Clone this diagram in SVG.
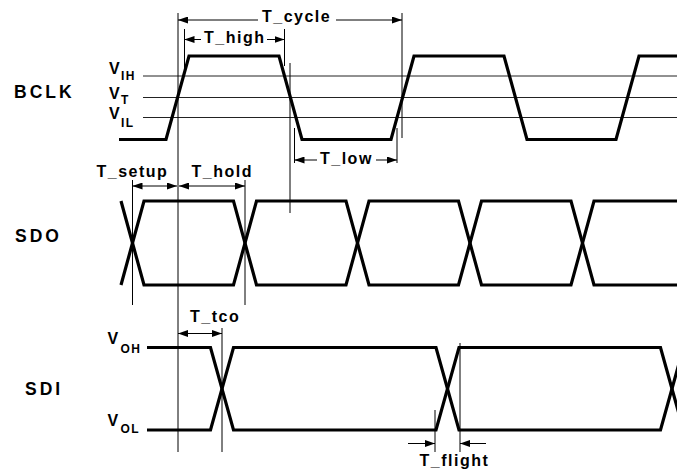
<svg xmlns="http://www.w3.org/2000/svg" width="677" height="474" viewBox="0 0 677 474">
<style>
.wave{fill:none;stroke:#000;stroke-width:3.2;stroke-linejoin:miter}
.thr{stroke:#222;stroke-width:1}
.ref{stroke:#000;stroke-width:1;fill:none}
.dim{stroke:#000;stroke-width:1;fill:none}
.sig{font-family:"Liberation Sans",Arial,sans-serif;font-weight:bold;font-size:17.5px;letter-spacing:3px;fill:#000}
.lbl{font-family:"Liberation Sans",Arial,sans-serif;font-weight:bold;font-size:16px;letter-spacing:1.5px;fill:#000}
.v{font-family:"Liberation Sans",Arial,sans-serif;font-weight:bold;font-size:16px;fill:#000}
.sub{font-size:12px;letter-spacing:1.5px}
</style>
<defs>
<marker id="ah" viewBox="0 0 10 7" refX="10" refY="3.5" markerWidth="10" markerHeight="7" markerUnits="userSpaceOnUse" orient="auto-start-reverse">
<path d="M0,0 L10,3.5 L0,7 z" fill="#000"/>
</marker>
</defs>
<rect width="677" height="474" fill="#fff"/>

<g id="bclk">
<text class="sig" x="14" y="98">BCLK</text>
<line class="thr" x1="143" y1="76" x2="677" y2="76"/>
<line class="thr" x1="143" y1="97.5" x2="677" y2="97.5"/>
<line class="thr" x1="143" y1="117.5" x2="677" y2="117.5"/>
<text class="v" x="109" y="73.5">V<tspan class="sub" x="121" y="79.5">IH</tspan></text>
<text class="v" x="109" y="98.5">V<tspan class="sub" x="121" y="104">T</tspan></text>
<text class="v" x="109" y="118.5">V<tspan class="sub" x="121" y="126.5">IL</tspan></text>
<path class="wave" d="M119,139.5 H166 L189,56 H279 L302,139.5 H391 L414,56 H504 L527,139.5 H616 L639,56 H677"/>
</g>

<g id="sdo">
<text class="sig" x="15" y="242">SDO</text>
<path class="wave" d="M121,201 L144,285 H233.5 L256.5,201 H346 L369,285 H458.5 L481.5,201 H571 L594,285 H677"/>
<path class="wave" d="M121,285 L144,201 H233.5 L256.5,285 H346 L369,201 H458.5 L481.5,285 H571 L594,201 H677"/>
</g>

<g id="sdi">
<text class="sig" x="25" y="395">SDI</text>
<text class="v" x="107.5" y="343.5">V<tspan class="sub" x="120.5" y="353">OH</tspan></text>
<text class="v" x="107.5" y="425.5">V<tspan class="sub" x="120.5" y="432.5">OL</tspan></text>
<path class="wave" d="M147,347.5 H210.5 L233.5,430 H436 L459,347.5 H660.5 L683.5,430"/>
<path class="wave" d="M147,430 H210.5 L233.5,347.5 H436 L459,430 H660.5 L683.5,347.5"/>
</g>

<g id="connectors">
<line class="ref" x1="178" y1="13" x2="178" y2="452"/>
<line class="ref" x1="184.5" y1="29" x2="184.5" y2="76"/>
<line class="ref" x1="284.5" y1="29" x2="284.5" y2="66"/>
<line class="ref" x1="290" y1="63" x2="290" y2="213"/>
<line class="ref" x1="294.5" y1="128" x2="294.5" y2="163"/>
<line class="ref" x1="397" y1="128" x2="397" y2="163"/>
<line class="ref" x1="402" y1="13" x2="402" y2="138"/>
<line class="ref" x1="132.5" y1="180" x2="132.5" y2="305"/>
<line class="ref" x1="245" y1="180" x2="245" y2="305"/>
<line class="ref" x1="222" y1="328" x2="222" y2="452"/>
<line class="ref" x1="435" y1="410" x2="435" y2="452"/>
<line class="ref" x1="460" y1="343" x2="460" y2="452"/>

<line class="dim" x1="258" y1="20" x2="178" y2="20" marker-end="url(#ah)"/>
<line class="dim" x1="336" y1="20" x2="402" y2="20" marker-end="url(#ah)"/>
<text class="lbl" x="262" y="22">T_cycle</text>
<line class="dim" x1="201" y1="39.5" x2="184.5" y2="39.5" marker-end="url(#ah)"/>
<line class="dim" x1="267" y1="39.5" x2="284.5" y2="39.5" marker-end="url(#ah)"/>
<text class="lbl" x="204" y="43">T_high</text>
<line class="dim" x1="317" y1="160" x2="294.5" y2="160" marker-end="url(#ah)"/>
<line class="dim" x1="376" y1="160" x2="397" y2="160" marker-end="url(#ah)"/>
<text class="lbl" x="320" y="163.5">T_low</text>
<line class="dim" x1="132.5" y1="186" x2="177" y2="186" marker-start="url(#ah)" marker-end="url(#ah)"/>
<line class="dim" x1="179" y1="186" x2="245" y2="186" marker-start="url(#ah)" marker-end="url(#ah)"/>
<text class="lbl" x="96.5" y="177">T_setup</text>
<text class="lbl" x="191.5" y="177">T_hold</text>
<line class="dim" x1="178" y1="333.5" x2="222" y2="333.5" marker-start="url(#ah)" marker-end="url(#ah)"/>
<text class="lbl" x="190" y="322">T_tco</text>
<line class="dim" x1="408" y1="443.5" x2="435" y2="443.5" marker-end="url(#ah)"/>
<line class="dim" x1="486" y1="443.5" x2="460" y2="443.5" marker-end="url(#ah)"/>
<text class="lbl" x="419.5" y="466">T_flight</text>
</g>
</svg>
